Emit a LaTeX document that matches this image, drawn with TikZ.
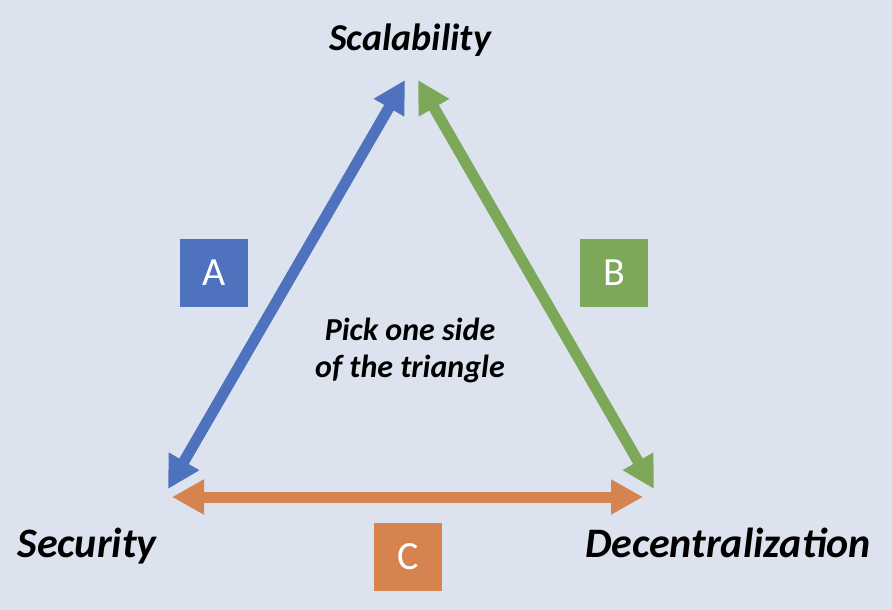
\documentclass[tikz,border=0pt]{standalone}
\usepackage{fontspec}
\setmainfont{Carlito}
\usetikzlibrary{arrows.meta}

\definecolor{bgblue}{RGB}{220,227,239}
\definecolor{sideA}{RGB}{79,114,190}
\definecolor{sideB}{RGB}{125,167,89}
\definecolor{sideC}{RGB}{213,131,79}

\begin{document}
\begin{tikzpicture}[x=1pt, y=-1pt,
  side/.style  ={line width=11pt, {Triangle[width=33pt,length=32pt]}-{Triangle[width=33pt,length=32pt]}},
  tag/.style   ={minimum width=68pt, minimum height=68pt, inner sep=0pt, text=white, font=\fontsize{40}{42}\selectfont},
  corner/.style={font=\bfseries\itshape\fontsize{42}{44}\selectfont, inner sep=0pt},
  lbl/.style   ={font=\bfseries\itshape\fontsize{32}{37}\selectfont, align=center}]

  % ---------------- background ----------------
  \fill[bgblue] (0,0) rectangle (892,610);
  \useasboundingbox (0,0) rectangle (892,610);

  % ---------------- corners ----------------
  \node[corner, anchor=base, font=\bfseries\itshape\fontsize{38}{40}\selectfont] (sca) at (410,51) {Scalability};
  \node[corner, anchor=base] (sec) at (87,557) {Security};
  \node[corner, anchor=base] (dec) at (728,557) {Decentralization};

  % arrow ends near each corner
  \coordinate (scaA) at (405,80);  \coordinate (scaB) at (418,80);
  \coordinate (secA) at (168,489); \coordinate (secC) at (172,497);
  \coordinate (decB) at (654,489); \coordinate (decC) at (643,497);

  % ---------------- sides ----------------
  \draw[side, sideA] (secA) -- (scaA);
  \draw[side, sideB] (scaB) -- (decB);
  \draw[side, sideC] (secC) -- (decC);

  % ---------------- side tags ----------------
  \node[tag, fill=sideA] (tagA) at (214,273) {A};
  \node[tag, fill=sideB] (tagB) at (614,273) {B};
  \node[tag, fill=sideC] (tagC) at (408,557) {C};

  % ---------------- middle text ----------------
  \node[lbl] (pick) at (410,350) {Pick one side\\of the triangle};
\end{tikzpicture}
\end{document}
